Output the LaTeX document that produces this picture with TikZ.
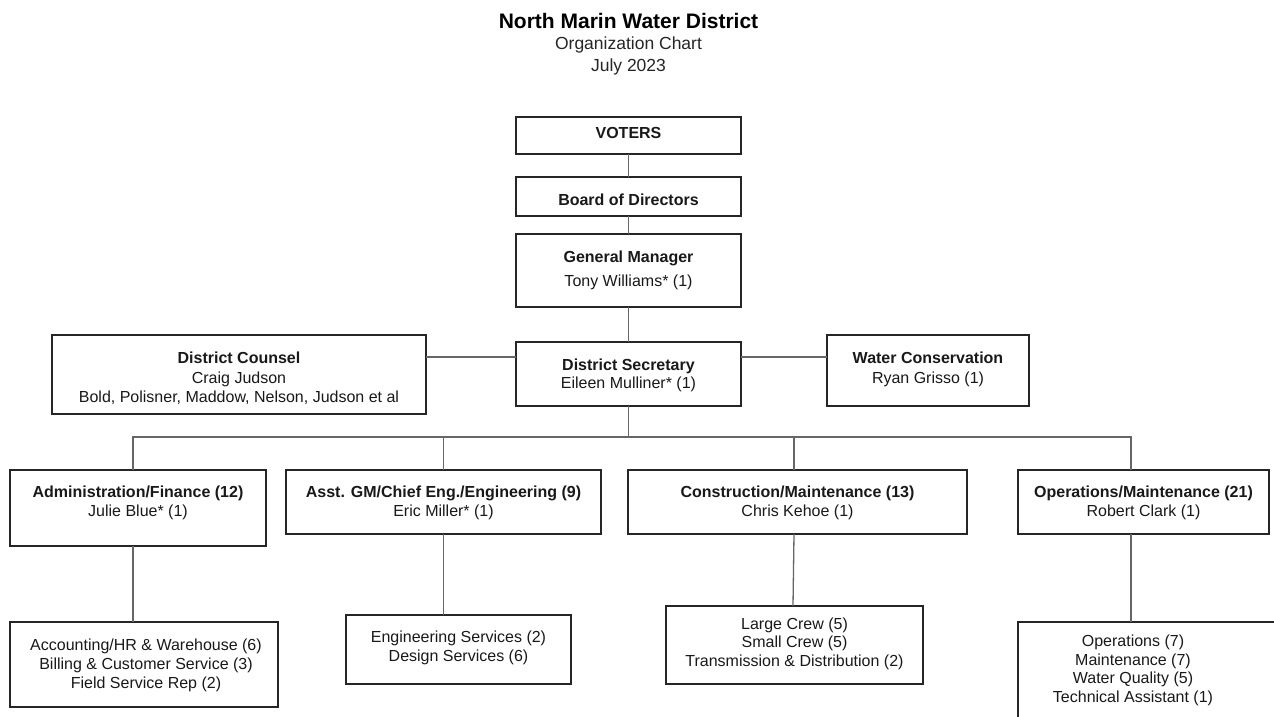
\documentclass[tikz,border=0pt]{standalone}
\usepackage{fontspec}
\setmainfont{Liberation Sans}
\begin{document}
\begin{tikzpicture}[x=1pt,y=-1pt,
  bx/.style={draw=black!85, line width=1.2pt, rectangle, inner sep=0pt, outer sep=0pt, anchor=north west},
  txt/.style={font=\fontsize{16}{19}\selectfont, anchor=base, inner sep=0pt, text=black!90},
  btxt/.style={txt, font=\fontsize{16}{19}\selectfont\bfseries},
  conn/.style={draw=black!60, line width=1.3pt}]
\useasboundingbox (0,0) rectangle (1274,717);
\clip (0,0) rectangle (1274,717);
\fill[white] (0,0) rectangle (1274,717);
% title
\node[anchor=base, inner sep=0pt, font=\fontsize{21}{24}\selectfont\bfseries] (title) at (628.5,29) {North Marin Water District};
\node[anchor=base, inner sep=0pt, font=\fontsize{17.5}{21}\selectfont, text=black!85] (sub1) at (628.5,50) {Organization Chart};
\node[anchor=base, inner sep=0pt, font=\fontsize{17.5}{21}\selectfont, text=black!85] (sub2) at (628.5,71) {July 2023};
% boxes
\node[bx, minimum width=225pt, minimum height=37pt] (v) at (516,117) {};
\node[bx, minimum width=225pt, minimum height=39pt] (b) at (516,177) {};
\node[bx, minimum width=225pt, minimum height=73pt] (gm) at (516,234) {};
\node[bx, minimum width=225pt, minimum height=64pt] (ds) at (516,342) {};
\node[bx, minimum width=374pt, minimum height=79pt] (dc) at (52,335) {};
\node[bx, minimum width=202pt, minimum height=71pt] (wc) at (827,335) {};
\node[bx, minimum width=256pt, minimum height=76pt] (ad) at (10,470) {};
\node[bx, minimum width=315pt, minimum height=64pt] (as) at (286,470) {};
\node[bx, minimum width=339pt, minimum height=64pt] (co) at (628,470) {};
\node[bx, minimum width=251pt, minimum height=64pt] (op) at (1018,470) {};
\node[bx, minimum width=268pt, minimum height=85pt] (ac) at (10,622) {};
\node[bx, minimum width=225pt, minimum height=69pt] (en) at (346,615) {};
\node[bx, minimum width=257pt, minimum height=78pt] (cr) at (666,606) {};
\node[bx, minimum width=280pt, minimum height=110pt] (ob) at (1018,622) {};
% texts
\node[btxt] (vt) at (628.5,138) {VOTERS};
\node[btxt] (bt) at (628.5,205) {Board of Directors};
\node[btxt] (gmt1) at (628.5,262) {General Manager};
\node[txt] (gmt2) at (628.5,286) {Tony Williams* (1)};
\node[btxt] (dst1) at (628.5,370) {District Secretary};
\node[txt] (dst2) at (628.5,388) {Eileen Mulliner* (1)};
\node[btxt] (dct1) at (239,363) {District Counsel};
\node[txt] (dct2) at (239,383) {Craig Judson};
\node[txt] (dct3) at (239,402) {Bold, Polisner, Maddow, Nelson, Judson et al};
\node[btxt] (wct1) at (928,363) {Water Conservation};
\node[txt] (wct2) at (928,383) {Ryan Grisso (1)};
\node[btxt] (adt1) at (138,497) {Administration/Finance (12)};
\node[txt] (adt2) at (138,516) {Julie Blue* (1)};
\node[btxt] (ast1) at (443.5,497) {Asst. GM/Chief Eng./Engineering (9)};
\node[txt] (ast2) at (443.5,516) {Eric Miller* (1)};
\node[btxt] (cot1) at (797.5,497) {Construction/Maintenance (13)};
\node[txt] (cot2) at (797.5,516) {Chris Kehoe (1)};
\node[btxt] (opt1) at (1143.5,497) {Operations/Maintenance (21)};
\node[txt] (opt2) at (1143.5,516) {Robert Clark (1)};
\node[txt] (act1) at (146,650) {Accounting/HR \& Warehouse (6)};
\node[txt] (act2) at (146,669) {Billing \& Customer Service (3)};
\node[txt] (act3) at (146,688) {Field Service Rep (2)};
\node[txt] (ent1) at (458.5,642) {Engineering Services (2)};
\node[txt] (ent2) at (458.5,661) {Design Services (6)};
\node[txt] (crt1) at (794.5,629) {Large Crew (5)};
\node[txt] (crt2) at (794.5,647.5) {Small Crew (5)};
\node[txt] (crt3) at (794.5,666) {Transmission \& Distribution (2)};
\node[txt] (obt1) at (1133,646) {Operations (7)};
\node[txt] (obt2) at (1133,665) {Maintenance (7)};
\node[txt] (obt3) at (1133,683.5) {Water Quality (5)};
\node[txt] (obt4) at (1133,702) {Technical Assistant (1)};
% connectors
\coordinate (bus) at (628.5,437);
\draw[conn] (v.south) -- (b.north);
\draw[conn] (b.south) -- (gm.north);
\draw[conn] (gm.south) -- (ds.north);
\draw[conn] ([yshift=17pt]ds.west) -- ([yshift=17pt]ds.west -| dc.east);
\draw[conn] ([yshift=17pt]ds.east) -- ([yshift=17pt]ds.east -| wc.west);
\draw[conn] (ds.south) -- (bus);
\draw[conn] ([xshift=-5pt]ad.north) |- (bus);
\draw[conn] ([xshift=-12.5pt]op.north) |- (bus);
\draw[conn] (as.north) -- (as.north |- bus);
\draw[conn] ([xshift=-3.5pt]co.north) -- ([xshift=-3.5pt]co.north |- bus);
\draw[conn] ([xshift=-5pt]ad.south) -- ([xshift=-5pt]ad.south |- ac.north);
\draw[conn] (as.south) -- (as.south |- en.north);
\draw[conn] ([xshift=-3.5pt]co.south) -- ([xshift=-1.5pt]cr.north);
\draw[conn] ([xshift=-12.5pt]op.south) -- ([xshift=-12.5pt]op.south |- ob.north);
\end{tikzpicture}
\end{document}
